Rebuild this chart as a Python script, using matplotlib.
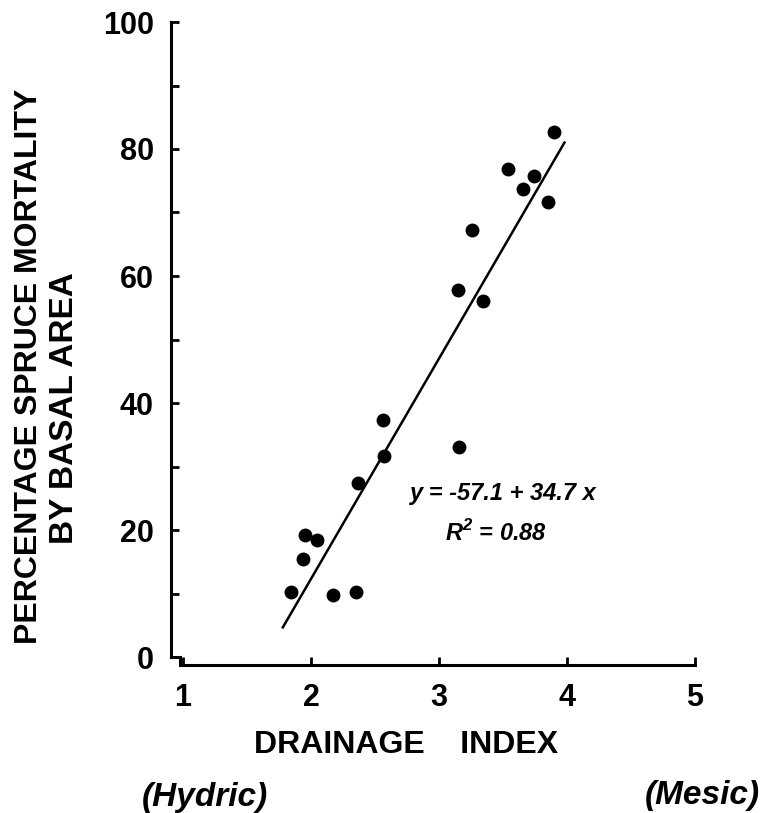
import numpy as np
import matplotlib
matplotlib.use("Agg")
import matplotlib.pyplot as plt
from matplotlib.lines import Line2D

plt.rcParams['font.family'] = ['Liberation Sans', 'DejaVu Sans']

# drainage index vs. spruce mortality
drainage = [1.84, 2.17, 2.35, 1.94, 1.95, 2.05, 2.37, 2.57, 2.56, 3.16,
            3.15, 3.34, 3.26, 3.66, 3.85, 3.74, 3.54, 3.90]
mortality = [10.2, 9.8, 10.2, 15.5, 19.2, 18.4, 27.4, 31.7, 37.3, 33.0,
             57.8, 56.0, 67.2, 73.7, 71.7, 75.8, 76.8, 82.6]

# fitted line y = a + b x
intercept = -57.1
slope = 34.7
fit_x = [1.78, 3.98]

x_ticks = [1, 2, 3, 4, 5]
y_ticks = [0, 20, 40, 60, 80, 100]
y_minor = [10, 30, 50, 70, 90]

fig = plt.figure(figsize=(7.7, 8.13), dpi=100)
ax = fig.add_axes([183 / 770, 156 / 813, 512 / 770, 635 / 813])

ax.scatter(drainage, mortality, s=100, color='black', zorder=3, linewidths=0)
fx = np.array(fit_x)
ax.plot(fx, intercept + slope * fx, color='black', lw=1.8)

ax.set_xlim(1, 5)
ax.set_ylim(0, 100)

# axes frame like the original: only left and bottom, pulled apart
for s in ['top', 'right']:
    ax.spines[s].set_visible(False)
ax.spines['left'].set_position(('outward', 9))
ax.spines['bottom'].set_position(('outward', 6))
ax.spines['left'].set_bounds(0, 100)
ax.spines['bottom'].set_bounds(1, 5)
for s in ['left', 'bottom']:
    ax.spines[s].set_linewidth(2.2)

ax.set_xticks(x_ticks)
ax.set_yticks(y_ticks)
ax.set_yticks(y_minor, minor=True)
ax.tick_params(axis='both', which='both', direction='in', length=6, width=2)
ax.tick_params(axis='y', pad=12)
ax.tick_params(axis='x', pad=13)
for lab in ax.get_xticklabels() + ax.get_yticklabels():
    lab.set_fontsize(22)
    lab.set_fontweight('bold')

# little step joining the two axis lines at the corner
fig.canvas.draw()
x0, y0 = ax.transData.transform((1, 0))
pts = 100 / 72
lx = x0 - 9 * pts
by = y0 - 6 * pts
fig.add_artist(Line2D([lx, x0 - 3, x0 - 3], [y0, y0, by], transform=None,
                      color='black', lw=2.2, solid_joinstyle='miter'))

ax.text(2.77, 25.8, 'y = -57.1 + 34.7 x', fontsize=17, style='italic',
        fontweight='bold', ha='left', va='center')
ax.text(3.05, 19.5, r'R$^{\mathregular{2}}$ = 0.88', fontsize=17, style='italic',
        fontweight='bold', ha='left', va='center')

fig.text(406 / 770, 1 - 745 / 813, 'DRAINAGE    INDEX', fontsize=23,
         fontweight='bold', ha='center', va='center')
fig.text(29 / 770, 1 - 366 / 813, 'PERCENTAGE SPRUCE MORTALITY', fontsize=23,
         fontweight='bold', rotation=90, ha='center', va='center')
fig.text(65 / 770, 1 - 408 / 813, 'BY BASAL AREA', fontsize=24,
         fontweight='bold', rotation=90, ha='center', va='center')
fig.text(205 / 770, 1 - 797 / 813, '(Hydric)', fontsize=24, fontweight='bold',
         style='italic', ha='center', va='center')
fig.text(702 / 770, 1 - 795 / 813, '(Mesic)', fontsize=24, fontweight='bold',
         style='italic', ha='center', va='center')

fig.savefig('out.png', dpi=100)
